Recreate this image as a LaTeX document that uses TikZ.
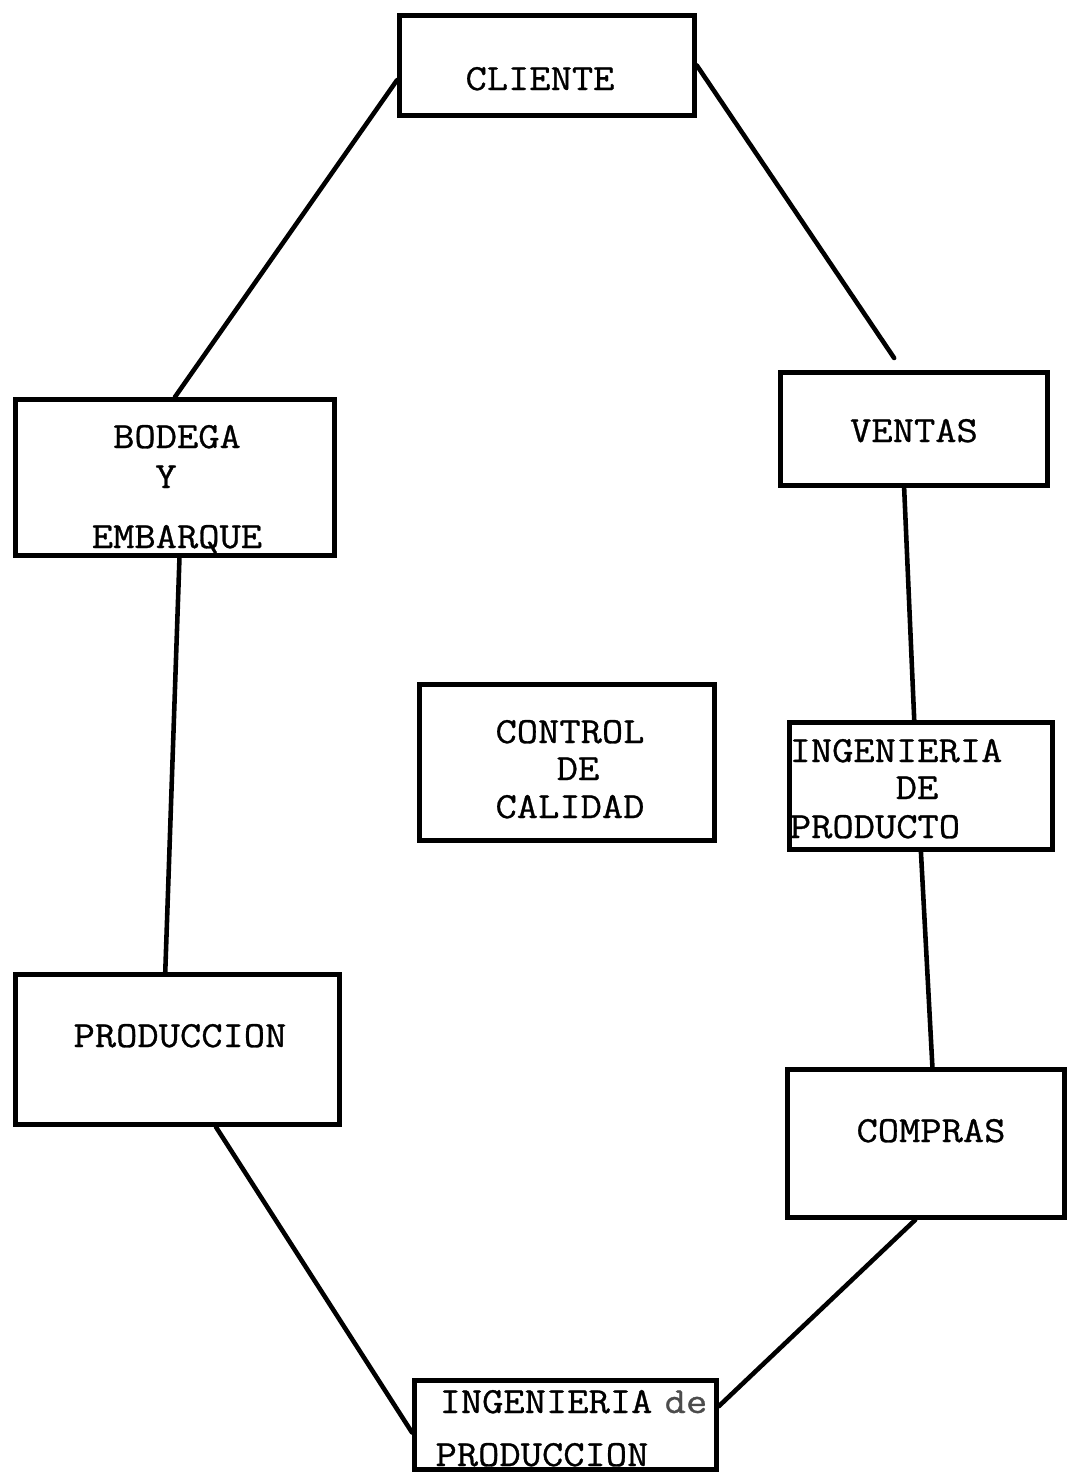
\documentclass[tikz,border=0pt]{standalone}
\usepackage{fontspec}
\newfontfamily\typewriter{Latin Modern Mono}[FakeBold=0.8,FakeStretch=1.12]
\usetikzlibrary{calc}
\begin{document}
\begin{tikzpicture}[x=0.02cm,y=-0.02cm,
  box/.style={draw,line width=2.8pt,rectangle,inner sep=0pt,anchor=north west},
  label/.style={inner sep=0pt,anchor=base,font=\typewriter\fontsize{21}{24}\selectfont},
  link/.style={line width=2.6pt,line cap=round}]
\useasboundingbox (0,0) rectangle (1067,1482);

% boxes (top-left corner, size in px units)
\node[box,minimum width=5.9cm,minimum height=2.0cm] (cliente) at (397,13) {};
\node[box,minimum width=6.38cm,minimum height=3.12cm] (bodega) at (13,397) {};
\node[box,minimum width=5.34cm,minimum height=2.26cm] (ventas) at (778,370) {};
\node[box,minimum width=5.9cm,minimum height=3.12cm] (control) at (417,682) {};
\node[box,minimum width=5.26cm,minimum height=2.54cm] (ingprod) at (787,720) {};
\node[box,minimum width=6.48cm,minimum height=3.0cm] (produccion) at (13,972) {};
\node[box,minimum width=5.54cm,minimum height=2.96cm] (compras) at (785,1067) {};
\node[box,minimum width=6.04cm,minimum height=1.78cm] (ingprodn) at (412,1378) {};

% texts
\node[label] (tcliente) at (540,90) {CLIENTE};
\node[label] (tbod1) at (177,448) {BODEGA};
\node[label] (tbod2) at (166,488) {Y};
\node[label] (tbod3) at (177,548) {EMBARQUE};
\node[label] (tventas) at (914,442) {VENTAS};
\node[label] (tcon1) at (570,743) {CONTROL};
\node[label] (tcon2) at (578,780) {DE};
\node[label] (tcon3) at (570,818) {CALIDAD};
\node[label] (ting1) at (896,762) {INGENIERIA};
\node[label] (ting2) at (917,799) {DE};
\node[label] (ting3) at (875,838) {PRODUCTO};
\node[label] (tprod) at (180,1047) {PRODUCCION};
\node[label] (tcompras) at (931,1142) {COMPRAS};
\node[label] (tingn1) at (546,1413) {INGENIERIA};
\node[label,text=black!70] (tingn2) at (686,1413) {de};
\node[label] (tingn3) at (542,1466) {PRODUCCION};

% connectors
\draw[link] ($(cliente.north west)!0.64!(cliente.south west)$) -- (bodega.north);
\draw[link,shorten >=0.29cm] (cliente.east) -- ($(ventas.north west)!0.457!(ventas.north east)$);
\draw[link] ($(ventas.south west)!0.464!(ventas.south east)$) -- ($(ingprod.north west)!0.475!(ingprod.north east)$);
\draw[link] (ingprod.south) -- ($(compras.north west)!0.523!(compras.north east)$);
\draw[link] ($(compras.south west)!0.462!(compras.south east)$) -- ($(ingprodn.north east)!0.30!(ingprodn.south east)$);
\draw[link] ($(produccion.south west)!0.617!(produccion.south east)$) -- ($(ingprodn.north west)!0.58!(ingprodn.south west)$);
\draw[link] ($(bodega.south west)!0.514!(bodega.south east)$) -- ($(produccion.north west)!0.463!(produccion.north east)$);
\end{tikzpicture}
\end{document}
